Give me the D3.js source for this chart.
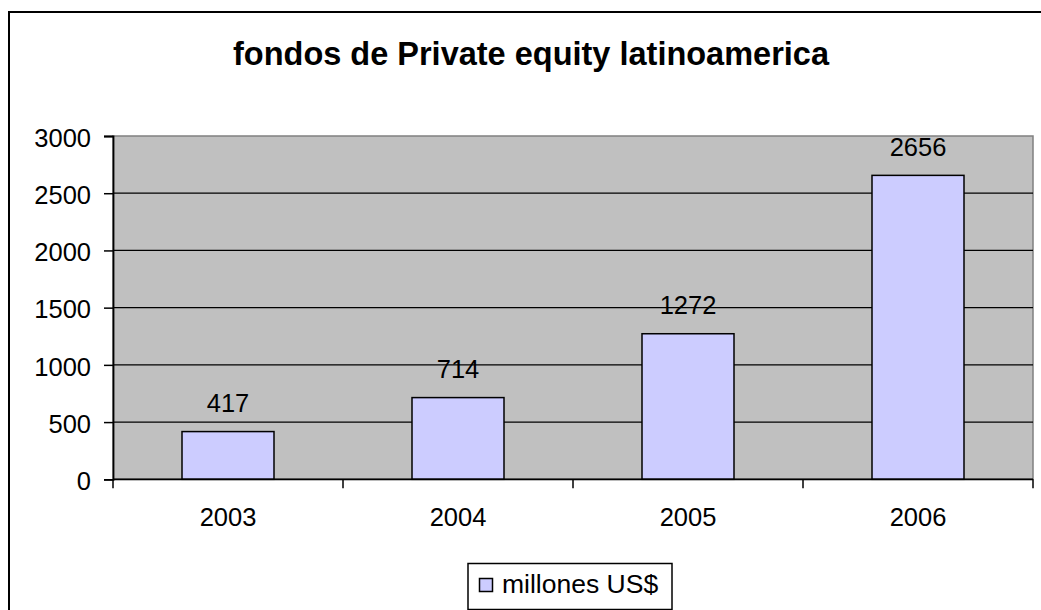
<!DOCTYPE html>
<html>
<head>
<meta charset="utf-8">
<script src="https://cdn.jsdelivr.net/npm/d3@7"></script>
<style>
  html, body { margin: 0; padding: 0; background: #fff; }
  svg { display: block; }
  text { font-family: "Liberation Sans", Arial, sans-serif; fill: #000; }
</style>
</head>
<body>
<svg id="chart" width="1041" height="610"></svg>
<script>
// Fund amounts by year (millions of US$)
const years = ["2003", "2004", "2005", "2006"];
const values = [417, 714, 1272, 2656];
const yTicks = [0, 500, 1000, 1500, 2000, 2500, 3000];
const seriesName = "millones US$";
const title = "fondos de Private equity latinoamerica";

const svg = d3.select("#chart");
const W = 1041, H = 610;
const labelSize = 25.5;

// Plot area bounds
const plot = { left: 113, right: 1033, top: 136, bottom: 479.3 };

// Outer chart frame
svg.append("rect")
  .attr("x", 9).attr("y", 12)
  .attr("width", W + 20).attr("height", H + 20)
  .attr("fill", "#fff").attr("stroke", "#000").attr("stroke-width", 2);

// Title
svg.append("text")
  .attr("x", 531).attr("y", 65)
  .attr("text-anchor", "middle")
  .attr("font-size", 32.5).attr("font-weight", "bold")
  .text(title);

const x = d3.scaleBand()
  .domain(years)
  .range([plot.left, plot.right])
  .paddingInner(0.6)
  .paddingOuter(0.3);

const y = d3.scaleLinear()
  .domain([0, 3000])
  .range([plot.bottom, plot.top]);

// Plot background
svg.append("rect")
  .attr("x", plot.left).attr("y", plot.top)
  .attr("width", plot.right - plot.left).attr("height", plot.bottom - plot.top)
  .attr("fill", "#c0c0c0")
  .attr("stroke", "#808080").attr("stroke-width", 1.5);

// Horizontal gridlines
svg.append("g")
  .selectAll("line")
  .data(yTicks.filter(d => d > 0 && d < 3000))
  .join("line")
  .attr("x1", plot.left).attr("x2", plot.right)
  .attr("y1", d => y(d)).attr("y2", d => y(d))
  .attr("stroke", "#000").attr("stroke-width", 1.3);

// Bars
svg.append("g")
  .selectAll("rect")
  .data(values)
  .join("rect")
  .attr("x", (d, i) => x(years[i]))
  .attr("y", d => y(d))
  .attr("width", x.bandwidth())
  .attr("height", d => y(0) - y(d))
  .attr("fill", "#ccccff")
  .attr("stroke", "#000").attr("stroke-width", 1.5);

// Value labels above bars
svg.append("g")
  .selectAll("text")
  .data(values)
  .join("text")
  .attr("x", (d, i) => x(years[i]) + x.bandwidth() / 2)
  .attr("y", d => y(d) - 19.5)
  .attr("text-anchor", "middle")
  .attr("font-size", labelSize)
  .text(d => d);

// Y axis
const yAxis = d3.axisLeft(y)
  .tickValues(yTicks)
  .tickSize(9)
  .tickPadding(13)
  .tickFormat(d3.format("d"));
const gy = svg.append("g")
  .attr("transform", `translate(${plot.left},0)`)
  .call(yAxis);
gy.select(".domain").attr("stroke", "#000").attr("stroke-width", 1.8);
gy.selectAll(".tick line").attr("stroke", "#000").attr("stroke-width", 1.5);
gy.selectAll(".tick text")
  .attr("font-size", labelSize)
  .attr("font-family", "Liberation Sans, Arial, sans-serif")
  .attr("fill", "#000")
  .attr("dy", "0.4em");

// X axis: category labels with tick marks between categories
const xAxis = d3.axisBottom(x).tickSize(0).tickPadding(29);
const gx = svg.append("g")
  .attr("transform", `translate(0,${plot.bottom})`)
  .call(xAxis);
gx.select(".domain").remove();
gx.selectAll(".tick text")
  .attr("font-size", labelSize)
  .attr("font-family", "Liberation Sans, Arial, sans-serif")
  .attr("fill", "#000");

svg.append("line")
  .attr("x1", plot.left).attr("x2", plot.right)
  .attr("y1", plot.bottom).attr("y2", plot.bottom)
  .attr("stroke", "#000").attr("stroke-width", 1.8);

const boundaries = d3.range(years.length + 1).map(i => plot.left + i * x.step());
svg.append("g")
  .selectAll("line")
  .data(boundaries)
  .join("line")
  .attr("x1", d => d).attr("x2", d => d)
  .attr("y1", plot.bottom).attr("y2", plot.bottom + 9)
  .attr("stroke", "#000").attr("stroke-width", 1.5);

// Legend
const legend = svg.append("g");
legend.append("rect")
  .attr("x", 468).attr("y", 563.5)
  .attr("width", 204).attr("height", 46)
  .attr("fill", "#fff").attr("stroke", "#000").attr("stroke-width", 1.5);
legend.append("rect")
  .attr("x", 479.5).attr("y", 578.5)
  .attr("width", 13).attr("height", 13)
  .attr("fill", "#ccccff").attr("stroke", "#000").attr("stroke-width", 1.5);
legend.append("text")
  .attr("x", 502).attr("y", 593)
  .attr("font-size", 26.5)
  .text(seriesName);
</script>
</body>
</html>
